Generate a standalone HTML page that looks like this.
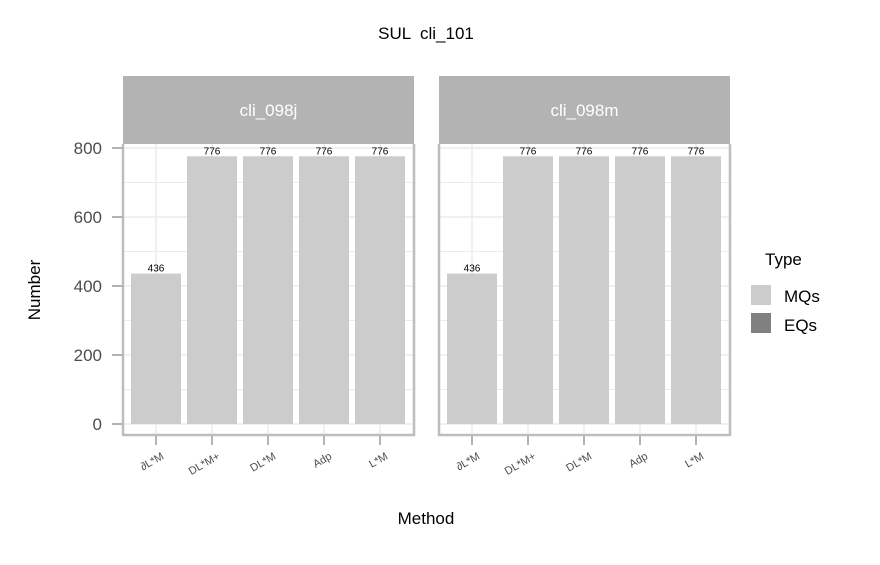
<!DOCTYPE html>
<html><head><meta charset="utf-8"><style>
body{margin:0;background:#fff;font-family:"Liberation Sans",Arial,sans-serif}
svg text{font-family:"Liberation Sans",Arial,sans-serif}
</style></head><body>
<svg id="chartsvg" width="880" height="560" xmlns="http://www.w3.org/2000/svg">
<text x="426" y="39" text-anchor="middle" font-size="17" fill="#000">SUL &#160;cli_101</text>
<text x="426" y="524" text-anchor="middle" font-size="17" fill="#000">Method</text>
<text transform="translate(40,290) rotate(-90)" text-anchor="middle" font-size="17" fill="#000">Number</text>
<g id="panels"></g>
<g>
<text x="765" y="265" font-size="17" fill="#000">Type</text>
<rect x="751" y="285" width="20" height="20" fill="#cccccc"/>
<text x="784" y="302" font-size="17">MQs</text>
<rect x="751" y="313" width="20" height="20" fill="#808080"/>
<text x="784" y="331" font-size="17">EQs</text>
</g>
</svg>
<script>
const panelNames=["cli_098j","cli_098m"];
const categories=["∂L*M","DL*M+","DL*M","Adp","L*M"];
const valuesJ=[436,776,776,776,776];
const valuesM=[436,776,776,776,776];
const yTicks=[0,200,400,600,800];
const NS="http://www.w3.org/2000/svg";
const g=document.getElementById("panels");
function mk(t,a,p){const e=document.createElementNS(NS,t);for(const k in a)e.setAttribute(k,a[k]);(p||g).appendChild(e);return e;}
const y=v=>424-v*0.345;
const seriesAll=[valuesJ,valuesM];
panelNames.forEach((pn,pi)=>{
  const x0=123+pi*316,x1=x0+291;
  const x=i=>x0+33+i*56;
  const pg=mk("g",{});
  
  
  const st=mk("rect",{x:x0,y:76,width:291,height:68,fill:"#b3b3b3"},pg);
  
  
  const stt=mk("text",{x:(x0+x1)/2,y:116,"text-anchor":"middle","font-size":17,fill:"#fff"},pg);
  stt.textContent=pn;
  
  
  for(let v=0;v<=900;v+=100){if(y(v)<144)continue;const l=mk("line",{x1:x0,x2:x1,y1:y(v),y2:y(v),stroke:"#ebebeb","stroke-width":v%200?1:1.5},pg);}
  categories.forEach((cat,i)=>{const l=mk("line",{x1:x(i),x2:x(i),y1:144,y2:435,stroke:"#ebebeb","stroke-width":1.5},pg);});
  seriesAll[pi].forEach((v,i)=>{
    const r=mk("rect",{x:x(i)-25,y:y(v),width:50,height:y(0)-y(v),fill:"#cccccc"},pg);
    
    
    const t=mk("text",{x:x(i),y:y(v)-2,"text-anchor":"middle","font-size":10,fill:"#000"},pg);
    t.textContent=v;
    
    
    const tk=mk("line",{x1:x(i),x2:x(i),y1:435,y2:445,stroke:"#b3b3b3","stroke-width":2},pg);
    
    
    const xl=mk("text",{transform:`translate(${x(i)+5},${452}) rotate(-30)`,"text-anchor":"end","dominant-baseline":"hanging","font-size":11,fill:"#4d4d4d"},pg);
    xl.textContent=categories[i];
    
    
  });
  const fr=mk("path",{d:`M${x0} 144V${435}H${x1}V144`,fill:"none",stroke:"#bdbdbd","stroke-width":2.5},pg);
  
  
});
yTicks.forEach(v=>{
  const l=mk("line",{x1:112,x2:123,y1:y(v),y2:y(v),stroke:"#b3b3b3","stroke-width":2});
  
  
  const t=mk("text",{x:102,y:y(v)+6,"text-anchor":"end","font-size":17,fill:"#4d4d4d"});
  t.textContent=v;
  
  
});
</script>
</body></html>
